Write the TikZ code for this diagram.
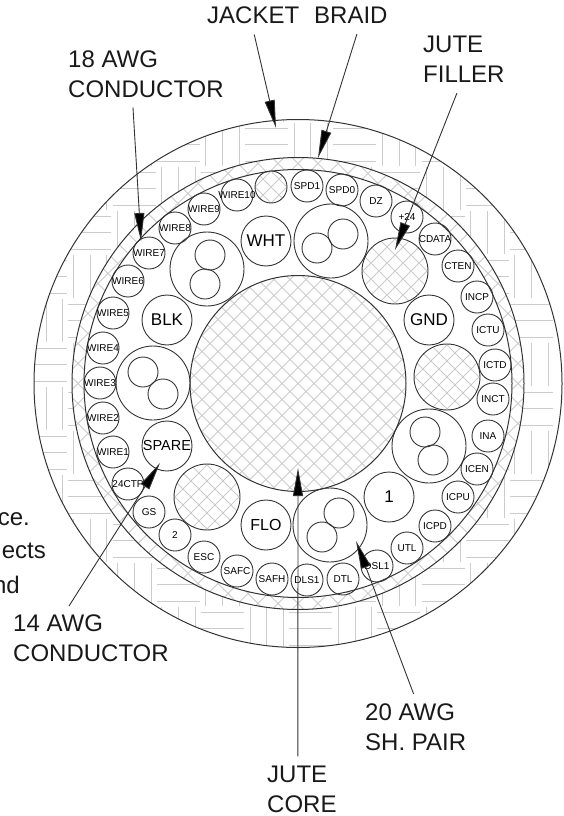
\documentclass[tikz,border=0pt]{standalone}
\usepackage{fontspec}
\setmainfont{Liberation Sans}
\usetikzlibrary{arrows.meta}
\definecolor{hatchgray}{gray}{0.8}
\definecolor{inkgray}{gray}{0.2}
\tikzstyle{wire} = [circle, draw=inkgray, line width=0.9pt, minimum size=32pt, inner sep=0pt, text=black, font=\fontsize{10}{10}\selectfont]
\tikzstyle{conductor} = [circle, draw=inkgray, line width=0.9pt, minimum size=50pt, inner sep=0pt, font=\fontsize{17}{17}\selectfont]
\tikzstyle{pairjacket} = [circle, draw=inkgray, line width=0.9pt, minimum size=74pt, inner sep=0pt]
\tikzstyle{pairwire} = [circle, draw=inkgray, line width=0.9pt, minimum size=30pt, inner sep=0pt]
\tikzstyle{filler} = [circle, draw=inkgray, line width=0.9pt, minimum size=66pt, inner sep=0pt]
\tikzstyle{ring} = [circle, draw=inkgray, line width=1pt, inner sep=0pt]
\tikzstyle{callout} = [anchor=base west, align=left, inner sep=0pt, text=black!90, font=\fontsize{24}{30}\selectfont]
\tikzstyle{arrow} = [line width=0.9pt, draw=inkgray, -{Triangle[length=28pt,width=10pt,fill=black]}]
\newcommand{\tagtext}[1]{\makebox[0pt]{#1}}
% crossed mesh inside a disc: x, y, radius, mesh size
\newcommand{\meshdisc}[4]{
  \begin{scope}
    \clip (#1,#2) circle (#3);
    \foreach \k in {-20,...,20} {
      \draw [hatchgray, line width=0.8pt] ({#1+\k*#4-#3-10},{#2-#3-10}) -- ({#1+\k*#4+#3+10},{#2+#3+10});
      \draw [hatchgray, line width=0.8pt] ({#1+\k*#4-#3-10},{#2+#3+10}) -- ({#1+\k*#4+#3+10},{#2-#3-10});
    }
  \end{scope}
}
\begin{document}
\begin{tikzpicture}[x=1pt, y=-1pt]
\useasboundingbox (0,0) rectangle (564,816);

% Jacket pattern
\begin{scope}
  \clip (298,383.5) circle (264);
  \foreach \i in {-6,...,6} {
    \foreach \j in {-6,...,12} {
      \pgfmathtruncatemacro{\odd}{mod(\i+\j+100,2)}
      \pgfmathsetmacro{\bx}{245+44.15*\i}
      \pgfmathsetmacro{\by}{123+44*\j}
      \foreach \d in {5,21.7,38.4} {
        \ifnum\odd=0
          \draw [hatchgray, line width=0.9pt] (\bx,\by+\d) -- (\bx+43,\by+\d);
        \else
          \draw [hatchgray, line width=0.9pt] (\bx+\d,\by) -- (\bx+\d,\by+43);
        \fi
      }
    }
  }
\end{scope}
\node (jacket) [ring, minimum size=528pt] at (298,383.5) {};

% Braid and bedding
\fill [white] (298,383.5) circle (226);
\meshdisc{298}{383.5}{226}{20}
\node (braid) [ring, minimum size=452pt] at (298,383.5) {};
\node (bedding) [ring, fill=white, minimum size=428pt] at (298,383.5) {};

% Jute
\meshdisc{298}{383.5}{108}{16}
\node (core) [ring, minimum size=216pt] at (298,383.5) {};
\meshdisc{271}{187}{16}{16}
\node (fillersmall) [wire] at (271,187) {};
\meshdisc{395}{271}{33}{16}
\node (fillertop) [filler] at (395,271) {};
\meshdisc{447}{377}{33}{16}
\node (fillerright) [filler] at (447,377) {};
\meshdisc{207}{497}{33}{16}
\node (fillerleft) [filler] at (207,497) {};

% 18 AWG wires
\node (wire1) [wire] at (113,452) {\tagtext{WIRE1}};
\node (wire2) [wire] at (103,418) {\tagtext{WIRE2}};
\node (wire3) [wire] at (100,383) {\tagtext{WIRE3}};
\node (wire4) [wire] at (103,348) {\tagtext{WIRE4}};
\node (wire5) [wire] at (113,313) {\tagtext{WIRE5}};
\node (wire6) [wire] at (128,281) {\tagtext{WIRE6}};
\node (wire7) [wire] at (149,253) {\tagtext{WIRE7}};
\node (wire8) [wire] at (175,228) {\tagtext{WIRE8}};
\node (wire9) [wire] at (204,209) {\tagtext{WIRE9}};
\node (wire10) [wire] at (237,195) {\tagtext{WIRE10}};
\node (spd1) [wire] at (307,186) {\tagtext{SPD1}};
\node (spd0) [wire] at (342,190) {\tagtext{SPD0}};
\node (dz) [wire] at (376,201) {\tagtext{DZ}};
\node (plus24) [wire] at (407,217) {\tagtext{+24}};
\node (cdata) [wire] at (435,239) {\tagtext{CDATA}};
\node (cten) [wire] at (458,266) {\tagtext{CTEN}};
\node (incp) [wire] at (477,297) {\tagtext{INCP}};
\node (ictu) [wire] at (488,330) {\tagtext{ICTU}};
\node (ictd) [wire] at (495,365) {\tagtext{ICTD}};
\node (inct) [wire] at (493,399) {\tagtext{INCT}};
\node (ina) [wire] at (488,436) {\tagtext{INA}};
\node (icen) [wire] at (477,469) {\tagtext{ICEN}};
\node (icpu) [wire] at (458,497) {\tagtext{ICPU}};
\node (icpd) [wire] at (435,526) {\tagtext{ICPD}};
\node (utl) [wire] at (407,548) {\tagtext{UTL}};
\node (dsl1) [wire] at (377,566) {\tagtext{DSL1}};
\node (dtl) [wire] at (343,579) {\tagtext{DTL}};
\node (dls1) [wire] at (307,580) {\tagtext{DLS1}};
\node (safh) [wire] at (272,579) {\tagtext{SAFH}};
\node (safc) [wire] at (237,571) {\tagtext{SAFC}};
\node (esc) [wire] at (204,557) {\tagtext{ESC}};
\node (two) [wire] at (175,535) {\tagtext{2}};
\node (gs) [wire] at (149,512) {\tagtext{GS}};
\node (ctp24) [wire] at (128,484) {\tagtext{24CTP}};

% 14 AWG conductors
\node (wht) [conductor] at (266,241) {\tagtext{WHT}};
\node (blk) [conductor] at (167,320) {\tagtext{BLK}};
\node (gnd) [conductor] at (429,320) {\tagtext{GND}};
\node (spare) [conductor, font=\fontsize{14.5}{14.5}\selectfont] at (167,446) {\tagtext{SPARE}};
\node (flo) [conductor, font=\fontsize{16}{16}\selectfont] at (266,525) {\tagtext{FLO}};
\node (one) [conductor] at (389,497) {\tagtext{1}};

% Shielded pairs
\node (pairnw) [pairjacket] at (207,269) {};
\node (pairnwa) [pairwire] at (210,255) {};
\node (pairnwb) [pairwire] at (205,284) {};
\node (pairne) [pairjacket] at (331,241) {};
\node (pairnea) [pairwire] at (343,234) {};
\node (pairneb) [pairwire] at (317,248) {};
\node (pairw) [pairjacket] at (153,383) {};
\node (pairwa) [pairwire] at (143,372) {};
\node (pairwb) [pairwire] at (163,394) {};
\node (paire) [pairjacket] at (429,446) {};
\node (pairea) [pairwire] at (425,432) {};
\node (paireb) [pairwire] at (433,460) {};
\node (pairs) [pairjacket] at (330,525) {};
\node (pairsa) [pairwire] at (339,513) {};
\node (pairsb) [pairwire] at (322,537) {};

% Labels
\node (lbljacket) [callout] at (207,24) {JACKET};
\node (lblbraid) [callout] at (314,24) {BRAID};
\node (lblfiller) [callout] at (423,82) {JUTE\\FILLER};
\node (lbl18) [callout] at (68,97) {18 AWG\\CONDUCTOR};
\node (lbl14) [callout] at (13,661) {14 AWG\\CONDUCTOR};
\node (lbl20) [callout] at (365,750) {20 AWG\\SH. PAIR};
\node (lblcore) [callout] at (267,812) {JUTE\\CORE};
\node (cuta) [callout, anchor=base east] at (30,525) {ce.};
\node (cutb) [callout, anchor=base east] at (46,558) {ects};
\node (cutc) [callout, anchor=base east] at (20,593) {nd};

% Arrow tips
\coordinate (tipjacket) at (276,128);
\coordinate (tipbraid) at (318,158);
\coordinate (tipfiller) at (395,250);
\coordinate (tip18) at (141,241);
\coordinate (tip14) at (160,463);
\coordinate (tip20) at (356,541);
\coordinate (tipcore) at (298,468);

% Arrows
\draw [arrow] ([xshift=1pt,yshift=-10pt]lbljacket.south) -- (tipjacket);
\draw [arrow] ([xshift=6pt,yshift=-10pt]lblbraid.south) -- (tipbraid);
\draw [arrow] ([xshift=-7pt,yshift=-11pt]lblfiller.south) -- (tipfiller);
\draw [arrow] ([xshift=-13pt,yshift=-10pt]lbl18.south) -- (tip18);
\draw [arrow] ([xshift=-22pt,yshift=8pt]lbl14.north) -- (tip14);
\draw [arrow] ([xshift=-2pt,yshift=9pt]lbl20.north) -- (tip20);
\draw [arrow] ([xshift=-4pt,yshift=9pt]lblcore.north) -- (tipcore);

\end{tikzpicture}
\end{document}
